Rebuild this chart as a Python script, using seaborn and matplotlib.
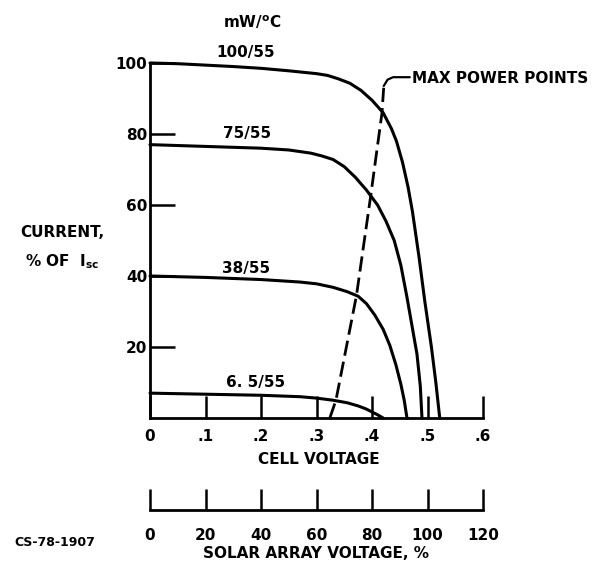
import numpy as np
import pandas as pd
import seaborn as sns
import matplotlib.pyplot as plt

# I-V curves (cell voltage, % of Isc)
v_100 = [0, 0.05, 0.1, 0.15, 0.2, 0.25, 0.3, 0.32, 0.34, 0.36, 0.38, 0.40, 0.42, 0.435, 0.444,
         0.455, 0.465, 0.473, 0.485, 0.495, 0.507, 0.515, 0.522]
i_100 = [100, 99.8, 99.4, 99.0, 98.5, 97.8, 97.0, 96.5, 95.5, 94.3, 92.3, 89.5, 86, 81.5, 78,
         72, 65, 58, 45, 33, 20, 10, 0]

v_75 = [0, 0.1, 0.2, 0.25, 0.29, 0.31, 0.33, 0.35, 0.37, 0.39, 0.41, 0.425, 0.44, 0.452,
        0.463, 0.472, 0.481, 0.487, 0.49]
i_75 = [77, 76.5, 76, 75.5, 74.6, 73.8, 72.8, 70.8, 67.8, 64.2, 60, 55.5, 50, 43,
        34, 26, 18, 9, 0]

v_38 = [0, 0.1, 0.2, 0.27, 0.30, 0.33, 0.355, 0.375, 0.39, 0.405, 0.42, 0.432, 0.443, 0.452, 0.458, 0.463]
i_38 = [40, 39.6, 39, 38.3, 37.8, 36.8, 35.6, 34.3, 32.2, 29, 25, 20.5, 15, 9.5, 5, 0]

v_6 = [0, 0.1, 0.2, 0.27, 0.30, 0.33, 0.355, 0.375, 0.39, 0.40, 0.41, 0.42]
i_6 = [7, 6.7, 6.4, 6.0, 5.6, 5.0, 4.3, 3.4, 2.5, 1.7, 0.9, 0]

curve_labels = ["100/55", "75/55", "38/55", "6. 5/55"]

# max power points locus (dashed) and its leader
mpp_v = [0.324, 0.335, 0.372, 0.398, 0.418, 0.421]
mpp_i = [0, 5, 34.5, 63, 86, 93]
leader_v = [0.421, 0.428, 0.438, 0.452, 0.468]
leader_i = [93.5, 95.3, 96.0, 96.0, 96.0]

cell_ticks = [0, 0.1, 0.2, 0.3, 0.4, 0.5, 0.6]
cell_ticklabels = ["0", ".1", ".2", ".3", ".4", ".5", ".6"]
array_ticks = [0, 20, 40, 60, 80, 100, 120]
current_ticks = [20, 40, 60, 80, 100]

sns.set_style("white")
plt.rcParams['font.family'] = ['DejaVu Sans']
plt.rcParams['font.weight'] = 'bold'
plt.rcParams['mathtext.default'] = 'regular'
for key in ['text.color', 'axes.labelcolor', 'xtick.color', 'ytick.color']:
    plt.rcParams[key] = 'black'

fig = plt.figure(figsize=(5.95, 5.67), dpi=100)
ax = fig.add_axes([0.2521, 0.2628, 0.5597, 0.6261])

lw = 2.2
for v, i in [(v_100, i_100), (v_75, i_75), (v_38, i_38), (v_6, i_6)]:
    sns.lineplot(x=v, y=i, sort=False, color="black", lw=lw, ax=ax, clip_on=False)

sns.lineplot(x=mpp_v, y=mpp_i, sort=False, color="black", lw=2.0, ax=ax, clip_on=False)
ax.lines[-1].set_dashes((5.5, 2.2))
sns.lineplot(x=leader_v, y=leader_i, sort=False, color="black", lw=1.6, ax=ax, clip_on=False)

ax.set_xlim(0, 0.6)
ax.set_ylim(0, 100)
for s in ["top", "right"]:
    ax.spines[s].set_visible(False)
for s in ["left", "bottom"]:
    ax.spines[s].set_linewidth(2.0)
    ax.spines[s].set_color("black")

fs = 11
ax.set_xticks(cell_ticks)
ax.set_xticklabels(cell_ticklabels)
ax.set_yticks(current_ticks)
ax.tick_params(axis="x", bottom=True, direction="in", length=16, width=1.8, pad=8, labelsize=fs)
ax.tick_params(axis="y", left=True, direction="in", length=18, width=1.8, pad=2, labelsize=fs)

# second scale: solar array voltage
sec = ax.secondary_xaxis(-0.258, functions=(lambda v: v * 200, lambda p: p / 200))
sec.set_xticks(array_ticks)
sec.tick_params(axis="x", bottom=True, direction="in", length=15, width=1.8, pad=13, labelsize=fs)
sec.spines["bottom"].set_linewidth(2.0)
sec.spines["bottom"].set_color("black")

# curve labels
label_pos = [(0.173, 103), (0.175, 80), (0.173, 42), (0.191, 10)]
for txt, (x, y) in zip(curve_labels, label_pos):
    ax.text(x, y, txt, ha="center", va="center", fontsize=fs)
ax.text(0.184, 111.5, "mW/$^{o}$C", ha="center", va="center", fontsize=fs)
ax.text(0.472, 95.6, "MAX POWER POINTS", ha="left", va="center", fontsize=fs)

fig.text(62 / 595, 1 - 233 / 567, "CURRENT,", ha="center", va="center", fontsize=fs)
fig.text(62 / 595, 1 - 262 / 567, "% OF  I$_{sc}$", ha="center", va="center", fontsize=fs)
fig.text(319 / 595, 1 - 460 / 567, "CELL VOLTAGE", ha="center", va="center", fontsize=fs)
fig.text(316 / 595, 1 - 553 / 567, "SOLAR ARRAY VOLTAGE, %", ha="center", va="center", fontsize=fs)
fig.text(55 / 595, 1 - 543 / 567, "CS-78-1907", ha="center", va="center", fontsize=9)

fig.savefig("out.png", dpi=100)
